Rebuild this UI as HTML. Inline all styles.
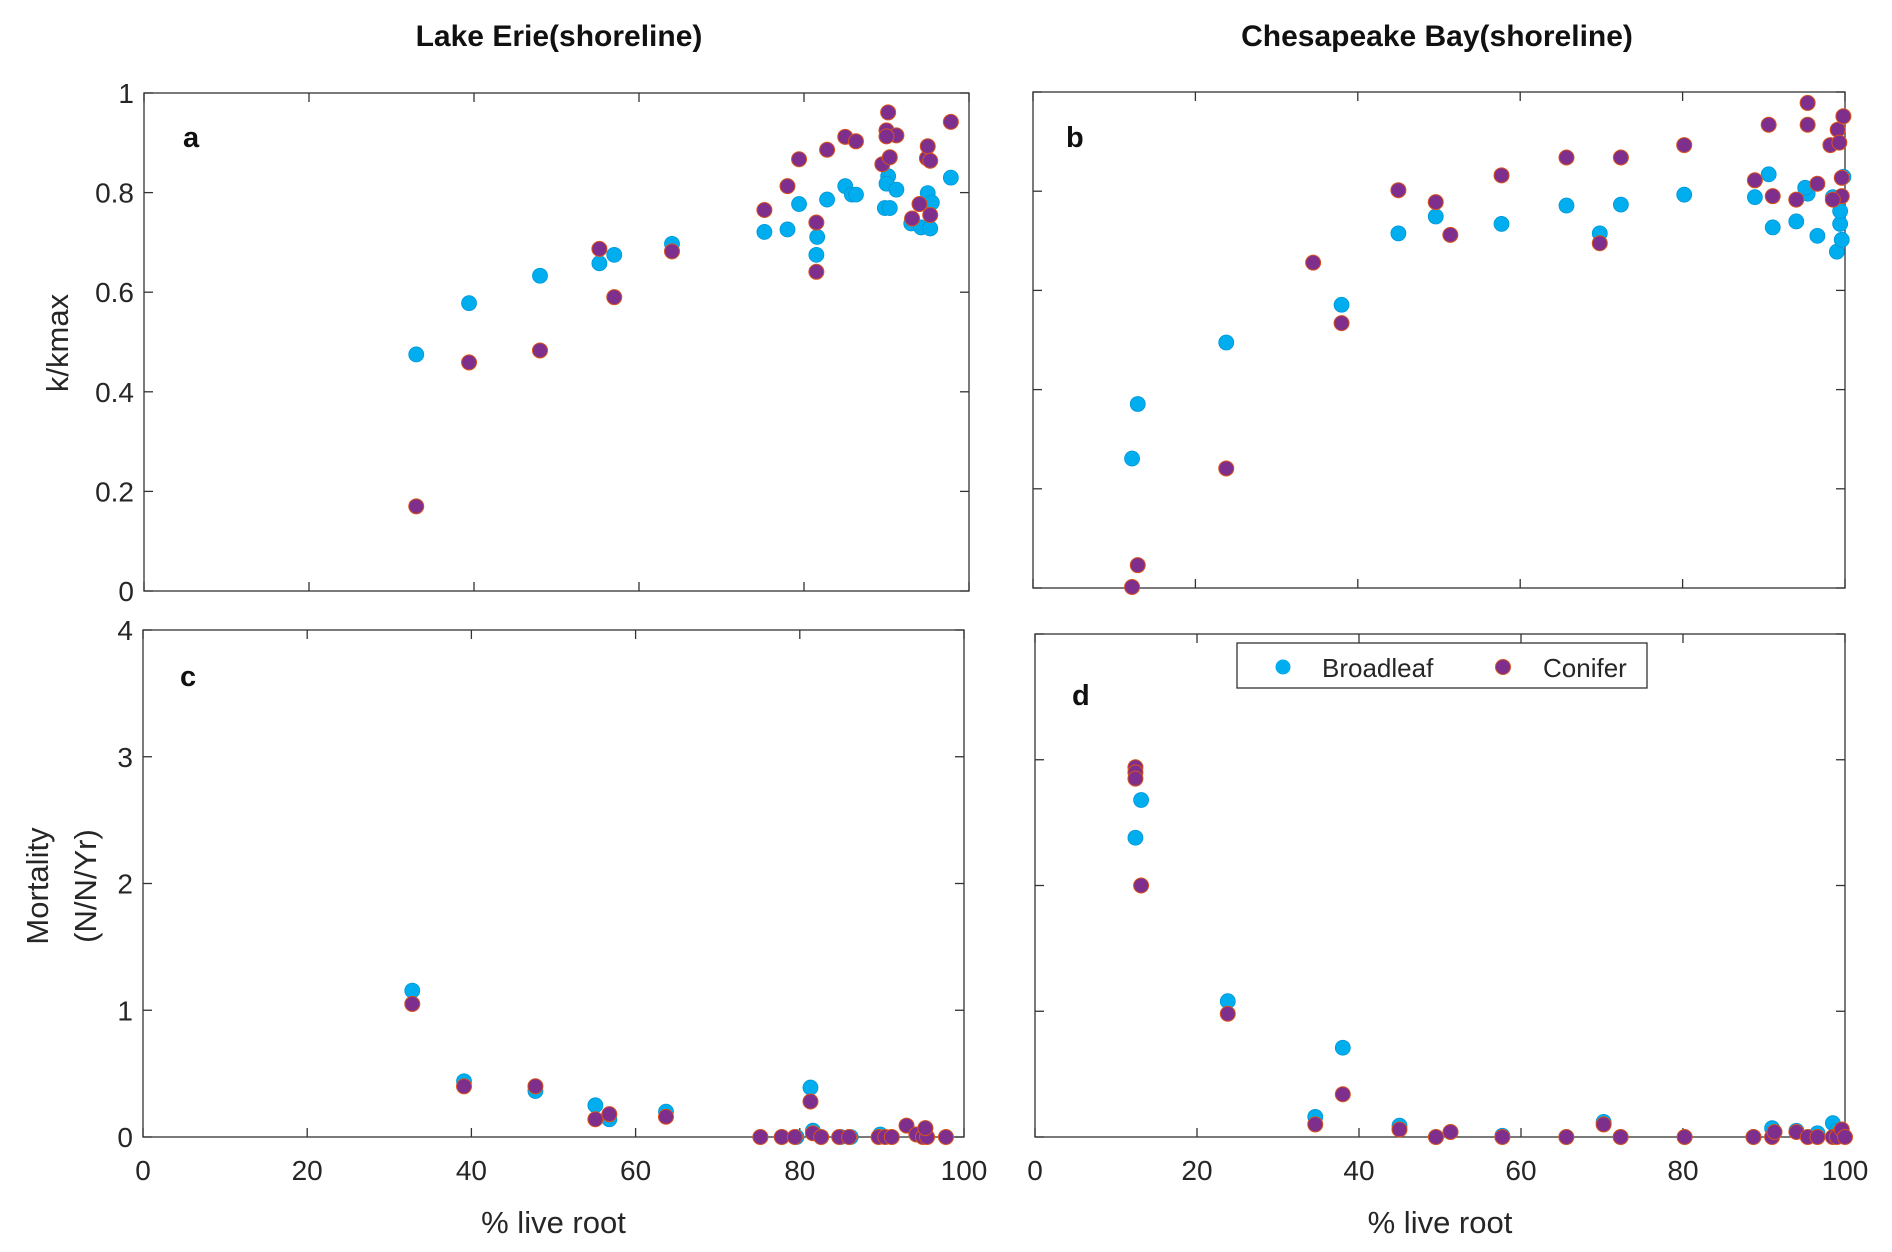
<!DOCTYPE html>
<html><head><meta charset="utf-8"><style>
html,body{margin:0;padding:0;background:#fff;}
svg{display:block;font-family:"Liberation Sans",Arial,sans-serif;}
</style></head><body>
<svg id="fig" width="1892" height="1252" viewBox="0 0 1892 1252">
<text x="559" y="46" text-anchor="middle" font-size="30" font-weight="bold" fill="#111">Lake Erie(shoreline)</text>
<text x="1437" y="46" text-anchor="middle" font-size="30" font-weight="bold" fill="#111">Chesapeake Bay(shoreline)</text>
<g id="plots"></g>
<g>
<rect x="1237" y="643" width="410" height="45" fill="#fff" stroke="#333" stroke-width="1.3"/>
<circle cx="1283" cy="667" r="7.5" fill="#00AEEF"/>
<text x="1322" y="677" font-size="26" fill="#262626">Broadleaf</text>
<circle cx="1503" cy="667" r="7.5" fill="#7E2F8E" stroke="#D95319" stroke-width="1"/>
<text x="1543" y="677" font-size="26" fill="#262626">Conifer</text>
</g>
</svg>
<script>
const aBroadX=[33,39.4,48,55.2,57,64,75.2,78,79.4,81.6,81.5,82.8,85,85.8,86.3,89.8,90.4,90.2,90,91.2,93,94.2,95,95.5,95.3,97.8];
const aBroadY=[0.475,0.578,0.633,0.658,0.675,0.697,0.721,0.726,0.777,0.711,0.675,0.786,0.813,0.796,0.796,0.769,0.769,0.833,0.818,0.806,0.738,0.73,0.799,0.78,0.728,0.83];
const aConX=[33,39.4,48,55.2,57,64,75.2,78,79.4,81.5,81.5,82.8,85,86.3,89.5,90.2,90,90.4,91.2,90,93.1,94,94.9,95,95.3,95.3,97.8];
const aConY=[0.17,0.459,0.483,0.687,0.59,0.682,0.765,0.813,0.867,0.74,0.641,0.886,0.912,0.903,0.857,0.961,0.925,0.871,0.915,0.913,0.748,0.777,0.869,0.893,0.864,0.755,0.942];
const bBroadX=[12.2,12.9,23.8,38,45,49.6,57.7,65.7,69.8,72.4,80.2,88.9,90.6,91.1,94,95.4,95.1,96.6,98.5,99,99.6,99.4,99.4,99.8];
const bBroadY=[0.261,0.371,0.495,0.571,0.715,0.749,0.734,0.771,0.715,0.773,0.793,0.788,0.834,0.727,0.739,0.795,0.807,0.71,0.788,0.678,0.702,0.734,0.76,0.829];
const bConX=[12.2,12.9,23.8,34.5,38,45,49.6,51.4,57.7,65.7,69.8,72.4,80.2,88.9,90.6,91.1,94,95.4,95.4,96.6,98.2,99.1,99.3,99.6,99.6,99.8,98.5];
const bConY=[0.002,0.046,0.241,0.656,0.534,0.802,0.778,0.712,0.832,0.868,0.695,0.868,0.893,0.822,0.934,0.79,0.783,0.978,0.934,0.815,0.893,0.924,0.898,0.827,0.79,0.951,0.783];
const cBroadX=[32.8,39.1,47.8,55.1,56.8,63.7,81.3,81.6,75.2,77.8,79.6,82.6,85,86.2,89.8,91.2,94.6,95.3];
const cBroadY=[1.155,0.44,0.363,0.25,0.14,0.2,0.39,0.05,0,0,0,0,0,0,0.02,0,0.02,0.07];
const cConX=[32.8,39.1,47.8,55.1,56.8,63.7,81.3,81.6,75.2,77.8,79.4,82.6,84.8,86,89.6,90.4,91.2,93,94.2,95,95.5,97.8,95.3];
const cConY=[1.05,0.4,0.4,0.14,0.18,0.16,0.28,0.03,0,0,0,0,0,0,0,0,0,0.09,0.02,0,0,0,0.07];
const dBroadX=[12.4,13.1,23.8,34.6,38,45,49.5,51.3,57.7,65.6,70.2,72.3,80.2,88.7,91,94,96.6,98.5,99,99.4];
const dBroadY=[2.38,2.68,1.08,0.16,0.71,0.09,0,0.04,0.01,0,0.12,0,0,0,0.07,0.05,0.03,0.11,0.05,0.04];
const dConX=[12.4,12.4,12.4,13.1,23.8,34.6,38,45,49.5,51.3,57.7,65.6,70.2,72.3,80.2,88.7,91,91.3,94,95.4,96.6,98.5,99,99.6,100];
const dConY=[2.94,2.9,2.85,2.0,0.98,0.1,0.34,0.06,0,0.04,0,0,0.1,0,0,0,0,0.04,0.04,0,0,0,0,0.06,0];
const xTicks=[0,20,40,60,80,100];
const kTicks=[0,0.2,0.4,0.6,0.8,1];
const kTickLabels=['0','0.2','0.4','0.6','0.8','1'];
const mTicks=[0,1,2,3,4];

const NS='http://www.w3.org/2000/svg';
const root=document.getElementById('plots');
function mk(tag,attrs,parent){const e=document.createElementNS(NS,tag);for(const k in attrs)e.setAttribute(k,attrs[k]);(parent||root).appendChild(e);return e;}

const panels=[
 {id:'a',x0:144,x1:969,y0:591,y1:93,ymax:1,yt:kTicks,ytl:kTickLabels,ylab:true,xlab:false,bx:aBroadX,by:aBroadY,cx:aConX,cy:aConY,lx:183,ly:147},
 {id:'b',x0:1033,x1:1845,y0:588,y1:92,ymax:1,yt:kTicks,ytl:kTickLabels,ylab:false,xlab:false,bx:bBroadX,by:bBroadY,cx:bConX,cy:bConY,lx:1066,ly:147},
 {id:'c',x0:143,x1:964,y0:1137,y1:630,ymax:4,yt:mTicks,ytl:mTicks.map(String),ylab:true,xlab:true,bx:cBroadX,by:cBroadY,cx:cConX,cy:cConY,lx:180,ly:686},
 {id:'d',x0:1035,x1:1845,y0:1137,y1:634,ymax:4,yt:mTicks,ytl:mTicks.map(String),ylab:false,xlab:true,bx:dBroadX,by:dBroadY,cx:dConX,cy:dConY,lx:1072,ly:705}
];
panels.forEach(p=>{
 const g=mk('g',{});
 
 
 const sx=v=>p.x0+(p.x1-p.x0)*v/100;
 const sy=v=>p.y0+(p.y1-p.y0)*v/p.ymax;
 const box=mk('rect',{x:p.x0,y:p.y1,width:p.x1-p.x0,height:p.y0-p.y1,fill:'#fff',stroke:'#333','stroke-width':1.3},g);
 
 
 xTicks.forEach(t=>{
  const x=sx(t);
  mk('line',{x1:x,x2:x,y1:p.y0,y2:p.y0-9,stroke:'#333','stroke-width':1.3},g);
  mk('line',{x1:x,x2:x,y1:p.y1,y2:p.y1+9,stroke:'#333','stroke-width':1.3},g);
  if(p.xlab){const tx=mk('text',{x:x,y:p.y0+43,'text-anchor':'middle','font-size':28,fill:'#262626'},g);tx.textContent=t;
   
   }
 });
 p.yt.forEach((t,i)=>{
  const y=sy(t);
  mk('line',{x1:p.x0,x2:p.x0+9,y1:y,y2:y,stroke:'#333','stroke-width':1.3},g);
  mk('line',{x1:p.x1,x2:p.x1-9,y1:y,y2:y,stroke:'#333','stroke-width':1.3},g);
  if(p.ylab){const tx=mk('text',{x:p.x0-10,y:y+10,'text-anchor':'end','font-size':28,fill:'#262626'},g);tx.textContent=p.ytl[i];
   
   }
 });
 const lt=mk('text',{x:p.lx,y:p.ly,'font-size':29,'font-weight':'bold',fill:'#111'},g);lt.textContent=p.id;
 
 
 p.bx.forEach((v,i)=>{const c=mk('circle',{cx:sx(v),cy:sy(p.by[i]),r:7.5,fill:'#00AEEF',stroke:'#0096d6','stroke-width':0.8},g);
  
  });
 p.cx.forEach((v,i)=>{const c=mk('circle',{cx:sx(v),cy:sy(p.cy[i]),r:7.5,fill:'#7E2F8E',stroke:'#D95319','stroke-width':1},g);
  
  });
 if(p.xlab){const xl=mk('text',{x:(p.x0+p.x1)/2,y:1233,'text-anchor':'middle','font-size':31,fill:'#262626'},g);xl.textContent='% live root';
  
  }
});
const ky=mk('text',{x:0,y:0,'text-anchor':'middle','font-size':31,fill:'#262626',transform:'translate(68,343) rotate(-90)'});ky.textContent='k/kmax';


const my1=mk('text',{x:0,y:0,'text-anchor':'middle','font-size':31,fill:'#262626',transform:'translate(48,886) rotate(-90)'});my1.textContent='Mortality';


const my2=mk('text',{x:0,y:0,'text-anchor':'middle','font-size':31,fill:'#262626',transform:'translate(96,886) rotate(-90)'});my2.textContent='(N/N/Yr)';


</script>
</body></html>
